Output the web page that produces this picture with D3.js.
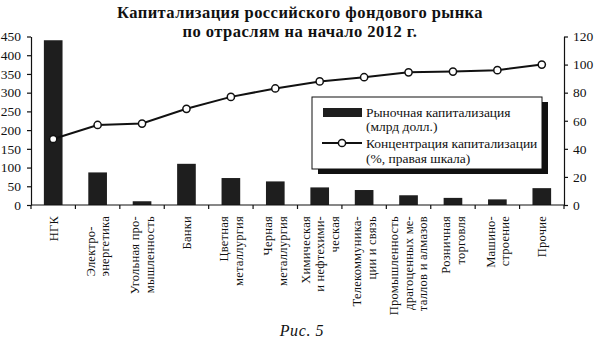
<!DOCTYPE html>
<html>
<head>
<meta charset="utf-8">
<script src="https://cdn.jsdelivr.net/npm/d3@7"></script>
<style>
  html, body { margin: 0; padding: 0; background: #fff; }
  svg { display: block; font-family: "Liberation Serif", "DejaVu Serif", serif; }
</style>
</head>
<body>
<svg id="chart" width="595" height="341"></svg>
<script>
// Sectors (each label split into the lines it is printed on)
const categories = [
  ["НГК"],
  ["Электро-", "энергетика"],
  ["Угольная про-", "мышленность"],
  ["Банки"],
  ["Цветная", "металлургия"],
  ["Черная", "металлургия"],
  ["Химическая", "и нефтехими-", "ческая"],
  ["Телекоммуника-", "ции и связь"],
  ["Промышленность", "драгоценных ме-", "таллов и алмазов"],
  ["Розничная", "торговля"],
  ["Машино-", "строение"],
  ["Прочие"]
];
// Market capitalization, bn USD (left axis)
const capitalization = [440, 87, 10, 110, 72, 63, 47, 40, 26, 19, 15, 45];
// Cumulative concentration of capitalization, % (right axis)
const concentration = [47, 57, 58, 68.5, 77, 83, 88, 91, 94.5, 95, 96, 100];

const leftTicks = [0, 50, 100, 150, 200, 250, 300, 350, 400, 450];
const rightTicks = [0, 20, 40, 60, 80, 100, 120];

const titleLines = ["Капитализация российского фондового рынка", "по отраслям на начало 2012 г."];
const legendBar = ["Рыночная капитализация", "(млрд долл.)"];
const legendLine = ["Концентрация капитализации", "(%, правая шкала)"];
const caption = "Рис. 5";

const svg = d3.select("#chart");
const plot = { left: 31, right: 564, top: 36.5, bottom: 205 };
const ink = "#111";
const serif = "Liberation Serif, DejaVu Serif, serif";

const idx = categories.map((d, i) => i);
const x = d3.scaleBand().domain(idx).range([plot.left, plot.right]).padding(0);
const yL = d3.scaleLinear().domain([0, 450]).range([plot.bottom, plot.top]);
const yR = d3.scaleLinear().domain([0, 120]).range([plot.bottom, plot.top]);
const barW = x.bandwidth() * 0.42;
const cx = i => x(i) + x.bandwidth() / 2;

// Title
svg.append("g").selectAll("text").data(titleLines).join("text")
  .attr("x", 300).attr("y", (d, i) => 18 + i * 18.5)
  .attr("text-anchor", "middle")
  .attr("font-weight", "bold").attr("font-size", 16.5)
  .attr("letter-spacing", 0.45)
  .attr("fill", ink).text(d => d);

// Bars
svg.append("g").selectAll("rect").data(capitalization).join("rect")
  .attr("x", (d, i) => cx(i) - barW / 2)
  .attr("y", d => yL(d))
  .attr("width", barW)
  .attr("height", d => yL(0) - yL(d))
  .attr("fill", "#1e1e1e");

// Left axis
const axL = svg.append("g").attr("transform", `translate(${plot.left},0)`)
  .call(d3.axisLeft(yL).tickValues(leftTicks).tickSize(4).tickPadding(6).tickSizeOuter(0));
// Right axis
const axR = svg.append("g").attr("transform", `translate(${plot.right},0)`)
  .call(d3.axisRight(yR).tickValues(rightTicks).tickSize(4).tickPadding(5).tickSizeOuter(0));
// Bottom axis with ticks on category boundaries
const boundaries = d3.range(categories.length + 1).map(i => plot.left + i * x.step());
const axB = svg.append("g");
axB.append("line")
  .attr("x1", plot.left).attr("x2", plot.right)
  .attr("y1", plot.bottom).attr("y2", plot.bottom)
  .attr("stroke", ink).attr("stroke-width", 1.2);
axB.selectAll("line.tick").data(boundaries).join("line").attr("class", "tick")
  .attr("x1", d => d).attr("x2", d => d)
  .attr("y1", plot.bottom).attr("y2", plot.bottom + 4)
  .attr("stroke", ink).attr("stroke-width", 1.2);

[axL, axR].forEach(a => {
  a.attr("font-family", serif);
  a.select(".domain").attr("stroke", ink).attr("stroke-width", 1.2);
  a.selectAll(".tick line").attr("stroke", ink).attr("stroke-width", 1.2);
  a.selectAll(".tick text").attr("font-size", 13.5)
    .attr("font-family", serif).attr("fill", ink);
});

// Category labels, rotated, each block hanging just below the axis
const labelTop = 216;
const lineGap = 14.5;
const lab = svg.append("g").attr("font-size", 12.5).attr("letter-spacing", 0.25).attr("fill", ink);
categories.forEach((lines, i) => {
  const n = lines.length;
  const nodes = lines.map((t, j) => {
    const lx = cx(i) + (j - (n - 1) / 2) * lineGap;
    return lab.append("text")
      .attr("transform", `translate(${lx},${labelTop}) rotate(-90)`)
      .attr("text-anchor", "end")
      .attr("dy", "0.35em")
      .text(t);
  });
  // "Электро-" sits flush with the start of "энергетика"
  if (i === 1) {
    const longest = nodes[1].node().getComputedTextLength();
    const lx = cx(i) - lineGap / 2;
    nodes[0].attr("text-anchor", "start")
      .attr("transform", `translate(${lx},${labelTop + longest}) rotate(-90)`);
  }
});

// Concentration line with open markers
const line = d3.line().x((d, i) => cx(i)).y(d => yR(d));
svg.append("path").datum(concentration)
  .attr("d", line).attr("fill", "none")
  .attr("stroke", ink).attr("stroke-width", 2);
svg.append("g").selectAll("circle").data(concentration).join("circle")
  .attr("cx", (d, i) => cx(i)).attr("cy", d => yR(d))
  .attr("r", 3.6).attr("fill", "#fff")
  .attr("stroke", ink).attr("stroke-width", 1.5);

// Legend with drop shadow
const lg = { x: 312, y: 97, w: 230, h: 72 };
const legend = svg.append("g");
legend.append("rect")
  .attr("x", lg.x + 6).attr("y", lg.y + 5).attr("width", lg.w).attr("height", lg.h)
  .attr("fill", ink);
legend.append("rect")
  .attr("x", lg.x).attr("y", lg.y).attr("width", lg.w).attr("height", lg.h)
  .attr("fill", "#fff").attr("stroke", ink).attr("stroke-width", 1);
legend.append("rect")
  .attr("x", lg.x + 11).attr("y", lg.y + 11).attr("width", 39).attr("height", 9)
  .attr("fill", "#1e1e1e");
legend.append("line")
  .attr("x1", lg.x + 10).attr("x2", lg.x + 50)
  .attr("y1", lg.y + 46).attr("y2", lg.y + 46)
  .attr("stroke", ink).attr("stroke-width", 2);
legend.append("circle")
  .attr("cx", lg.x + 30).attr("cy", lg.y + 46).attr("r", 3.6)
  .attr("fill", "#fff").attr("stroke", ink).attr("stroke-width", 1.5);
const legText = legend.append("g").attr("font-size", 13.5).attr("fill", ink);
legendBar.forEach((t, j) => legText.append("text")
  .attr("x", lg.x + 54).attr("y", lg.y + 20 + j * 14).text(t));
legendLine.forEach((t, j) => legText.append("text")
  .attr("x", lg.x + 54).attr("y", lg.y + 51 + j * 15).text(t));

// Figure caption
svg.append("text").attr("x", 302).attr("y", 336)
  .attr("text-anchor", "middle").attr("font-style", "italic")
  .attr("font-size", 16).attr("letter-spacing", 0.6).attr("fill", ink).text(caption);
</script>
</body>
</html>
